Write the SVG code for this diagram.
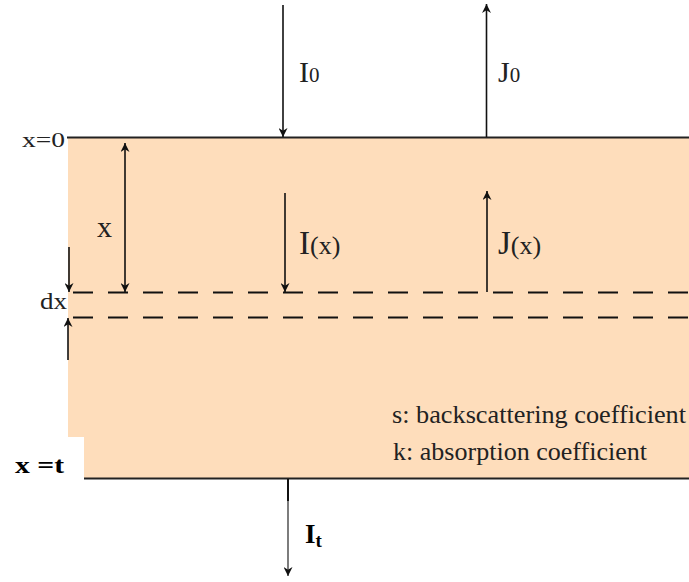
<svg xmlns="http://www.w3.org/2000/svg" width="689" height="582" viewBox="0 0 689 582">
<defs>
<marker id="ah" viewBox="0 0 10 10" refX="10" refY="5" markerWidth="9" markerHeight="9" markerUnits="userSpaceOnUse" orient="auto">
<path d="M0,0 L10,5 L0,10 L3,5 z" fill="#111"/>
</marker>
<marker id="ahs" viewBox="0 0 10 10" refX="10" refY="5" markerWidth="9" markerHeight="9" markerUnits="userSpaceOnUse" orient="auto-start-reverse">
<path d="M0,0 L10,5 L0,10 L3,5 z" fill="#111"/>
</marker>
</defs>
<style>
.t{font-family:"Liberation Serif","Times New Roman",serif;fill:#222;}
.b{font-family:"Liberation Serif","Times New Roman",serif;fill:#000;font-weight:bold;}
.ln{stroke:#111;stroke-width:1.6;fill:none;}
.edge{stroke:#222;stroke-width:2;fill:none;}
.dash{stroke:#111;stroke-width:2;stroke-dasharray:20 15;fill:none;}
</style>
<g id="slab">
<rect x="68" y="138" width="621" height="340" fill="#FEDDBB"/>
<rect x="0" y="437" width="84" height="45" fill="#fff"/>
<line class="edge" x1="67" y1="137.5" x2="689" y2="137.5"/>
<line class="edge" x1="84" y1="478.5" x2="689" y2="478.5"/>
<line class="dash" x1="73" y1="292.5" x2="689" y2="292.5"/>
<line class="dash" x1="73" y1="317.5" x2="689" y2="317.5"/>
</g>
<g id="connectors">
<line class="ln" x1="283" y1="5" x2="283" y2="137" marker-end="url(#ah)"/>
<line class="ln" x1="486.5" y1="137" x2="486.5" y2="4" marker-end="url(#ah)"/>
<line class="ln" x1="125" y1="143" x2="125" y2="292" marker-start="url(#ahs)" marker-end="url(#ah)"/>
<line class="ln" x1="285" y1="193" x2="285" y2="292" marker-end="url(#ah)"/>
<line class="ln" x1="487" y1="292" x2="487" y2="191" marker-end="url(#ah)"/>
<line class="ln" x1="69" y1="247" x2="69" y2="292" marker-end="url(#ah)"/>
<line class="ln" x1="68" y1="360" x2="68" y2="318" marker-end="url(#ah)"/>
<line x1="288" y1="479" x2="288" y2="501" stroke="#111" stroke-width="2"/>
<line x1="288" y1="500" x2="288" y2="576" stroke="#111" stroke-width="1.1" marker-end="url(#ah)"/>
</g>
<g id="labels">
<text class="t" x="22" y="147" font-size="20" textLength="43" lengthAdjust="spacingAndGlyphs">x=0</text>
<text class="t" x="299" y="82" font-size="30">I<tspan font-size="21">0</tspan></text>
<text class="t" x="498" y="82" font-size="30">J<tspan font-size="21">0</tspan></text>
<text class="t" x="97" y="237" font-size="30">x</text>
<text class="t" x="299" y="254" font-size="33">I<tspan font-size="26">(x)</tspan></text>
<text class="t" x="498" y="254" font-size="33">J<tspan font-size="26">(x)</tspan></text>
<text class="t" x="40" y="309" font-size="24" textLength="27" lengthAdjust="spacingAndGlyphs">dx</text>
<text class="t" x="392" y="423" font-size="26" textLength="294" lengthAdjust="spacingAndGlyphs">s: backscattering coefficient</text>
<text class="t" x="393" y="460" font-size="26" textLength="254" lengthAdjust="spacingAndGlyphs">k: absorption coefficient</text>
<text class="b" x="15" y="473" font-size="23" textLength="49" lengthAdjust="spacingAndGlyphs">x =t</text>
<text class="b" x="305" y="543" font-size="27">I<tspan font-size="19" dy="4">t</tspan></text>
</g>
</svg>
